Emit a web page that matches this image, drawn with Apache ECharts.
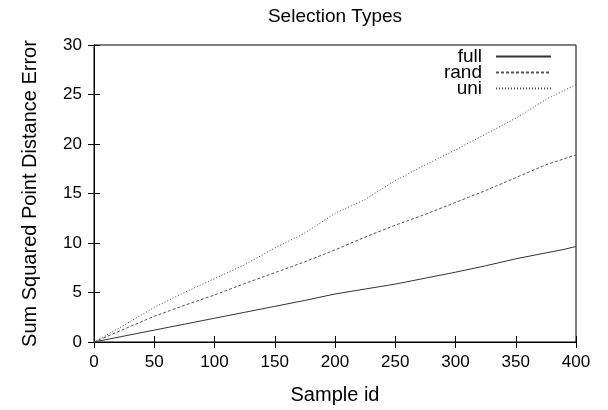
<!DOCTYPE html>
<html>
<head>
<meta charset="utf-8">
<script src="https://cdn.jsdelivr.net/npm/echarts@6/dist/echarts.min.js"></script>
<style>
  html, body { margin: 0; padding: 0; background: #fff; }
  #chart { width: 608px; height: 410px; }
</style>
</head>
<body>
<div id="chart"></div>
<script>
// sample ids (x) and error values
const sampleIds = [0, 25, 50, 75, 100, 125, 150, 175, 200, 225, 250, 275, 300, 325, 350, 375, 390, 400];
const fullVals = [0, 0.6, 1.2, 1.8, 2.4, 3.0, 3.6, 4.2, 4.85, 5.35, 5.85, 6.45, 7.05, 7.7, 8.4, 9.0, 9.35, 9.65];
const randVals = [0, 1.3, 2.6, 3.7, 4.75, 5.9, 7.0, 8.1, 9.3, 10.6, 11.8, 12.9, 14.1, 15.3, 16.6, 17.9, 18.5, 18.9];
const uniVals = [0, 1.7, 3.5, 5.0, 6.4, 7.8, 9.5, 11.0, 13.0, 14.4, 16.3, 17.9, 19.4, 21.0, 22.6, 24.5, 25.4, 26.0];
const xTicks = [0, 50, 100, 150, 200, 250, 300, 350, 400];
const yTicks = [0, 5, 10, 15, 20, 25, 30];

const font = 'Liberation Sans';

function pairs(xs, ys) {
    return xs.map((x, i) => [x, ys[i]]);
}

function mkSeries(name, vals, dash, color) {
    return {
        name,
        type: 'line',
        data: pairs(sampleIds, vals),
        symbol: 'none',
        animation: false,
        lineStyle: { color, width: 1, type: dash },
        itemStyle: { color }
    };
}

const tickStyle = { inside: true, length: 6, lineStyle: { color: '#000', width: 1 } };
const axisLine = { show: true, lineStyle: { color: '#000', width: 1 } };

const chart = echarts.init(document.getElementById('chart'));
chart.setOption({
    backgroundColor: '#fff',
    animation: false,
    title: {
        text: 'Selection Types',
        left: 330,
        textAlign: 'center',
        top: 2,
        textStyle: { fontFamily: font, fontSize: 19, fontWeight: 'normal', color: '#000' }
    },
    legend: {
        orient: 'vertical',
        right: 56,
        top: 47,
        padding: 0,
        align: 'right',
        itemWidth: 55,
        itemHeight: 10,
        itemGap: -3,
        itemStyle: { opacity: 0 },
        textStyle: { fontFamily: font, fontSize: 19, color: '#000', padding: [0, 9, 0, 0] },
        data: ['full', 'rand', 'uni']
    },
    grid: { left: 94, right: 32, top: 45, bottom: 66, show: true, borderColor: '#000', borderWidth: 1 },
    xAxis: [{
        type: 'value',
        min: 0, max: 400, interval: 50,
        name: 'Sample id',
        nameLocation: 'middle',
        nameGap: 43,
        nameTextStyle: { fontFamily: font, fontSize: 20, color: '#000' },
        axisLine, axisTick: tickStyle,
        axisLabel: { fontFamily: font, fontSize: 17, color: '#000', margin: 12,
            customValues: xTicks },
        splitLine: { show: false }
    }, {
        type: 'value', position: 'top',
        min: 0, max: 400, interval: 50,
        axisLine, axisTick: tickStyle,
        axisLabel: { show: false }, splitLine: { show: false }
    }],
    yAxis: [{
        type: 'value',
        min: 0, max: 30, interval: 5,
        name: 'Sum Squared Point Distance Error',
        nameLocation: 'middle',
        nameGap: 54,
        nameTextStyle: { fontFamily: font, fontSize: 20, color: '#000' },
        axisLine, axisTick: tickStyle,
        axisLabel: { fontFamily: font, fontSize: 17, color: '#000', margin: 12,
            customValues: yTicks },
        splitLine: { show: false }
    }, {
        type: 'value', position: 'right',
        min: 0, max: 30, interval: 5,
        axisLine, axisTick: tickStyle,
        axisLabel: { show: false }, splitLine: { show: false }
    }],
    series: [
        mkSeries('full', fullVals, 'solid', '#333'),
        mkSeries('rand', randVals, [3, 2], '#555'),
        mkSeries('uni', uniVals, [1, 2], '#444')
    ]
});
</script>
</body>
</html>
